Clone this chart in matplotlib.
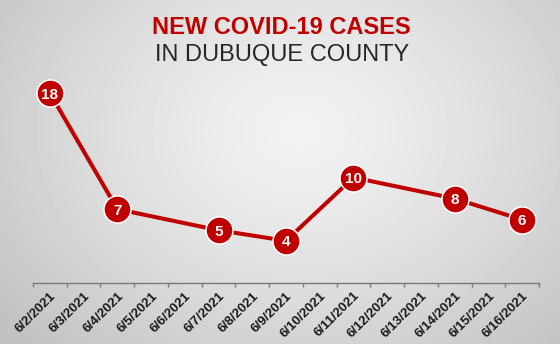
import numpy as np
import matplotlib.pyplot as plt

plt.rcParams['font.family'] = ['Liberation Sans', 'DejaVu Sans']

# data
dates = ["6/2/2021", "6/3/2021", "6/4/2021", "6/5/2021", "6/6/2021",
         "6/7/2021", "6/8/2021", "6/9/2021", "6/10/2021", "6/11/2021",
         "6/12/2021", "6/13/2021", "6/14/2021", "6/15/2021", "6/16/2021"]
case_dates = ["6/2/2021", "6/4/2021", "6/7/2021", "6/9/2021",
              "6/11/2021", "6/14/2021", "6/16/2021"]
cases = [18, 7, 5, 4, 10, 8, 6]

red = "#c00000"

fig = plt.figure(figsize=(5.6, 3.44), dpi=100)

# radial gray background
bg = fig.add_axes([0, 0, 1, 1])
yy, xx = np.mgrid[0:344, 0:560]
r = np.sqrt(((xx - 300) / 380.0) ** 2 + ((yy - 130) / 300.0) ** 2)
r = np.clip(r, 0, 1)
shade = 0.95 - 0.19 * r ** 1.3
bg.imshow(shade, cmap="gray", vmin=0, vmax=1, aspect="auto",
          extent=[0, 1, 0, 1], origin="upper")
bg.axis("off")

# chart axes
x0, x1 = 33 / 560, 539 / 560
y0 = 1 - 283 / 344
ax = fig.add_axes([x0, y0, x1 - x0, 211 / 344])
ax.set_facecolor("none")
ax.set_xlim(-0.5, len(dates) - 0.5)
ax.set_ylim(0, 20)

xpos = [dates.index(d) for d in case_dates]
ax.plot(xpos, cases, color=red, lw=2.9, zorder=2,
        marker="o", markersize=19.5, markerfacecolor=red,
        markeredgecolor="white", markeredgewidth=1.1)
for x, v in zip(xpos, cases):
    ax.text(x, v, str(v), color="white", fontsize=11, fontweight="bold",
            ha="center", va="center_baseline", zorder=3)

for s in ["top", "right", "left"]:
    ax.spines[s].set_visible(False)
ax.spines["bottom"].set_color("#7a7a7a")
ax.spines["bottom"].set_linewidth(1.0)
ax.set_yticks([])

ax.set_xticks(np.arange(len(dates) + 1) - 0.5)
ax.set_xticklabels([])
ax.tick_params(axis="x", length=3, width=1, color="#7a7a7a")
ax.set_xticks(range(len(dates)), minor=True)
ax.set_xticklabels(dates, minor=True, rotation=45, ha="right",
                   rotation_mode="anchor", fontsize=9.5, fontweight="bold",
                   color="#1a1a1a")
ax.tick_params(axis="x", which="minor", length=0, pad=5)

fig.text(0.503, 1 - 28 / 344, "NEW COVID-19 CASES", color=red,
         fontsize=17, fontweight="bold", ha="center", va="center")
fig.text(0.503, 1 - 55 / 344, "IN DUBUQUE COUNTY", color="#262626",
         fontsize=17, ha="center", va="center")

fig.savefig("out.png", dpi=100)
